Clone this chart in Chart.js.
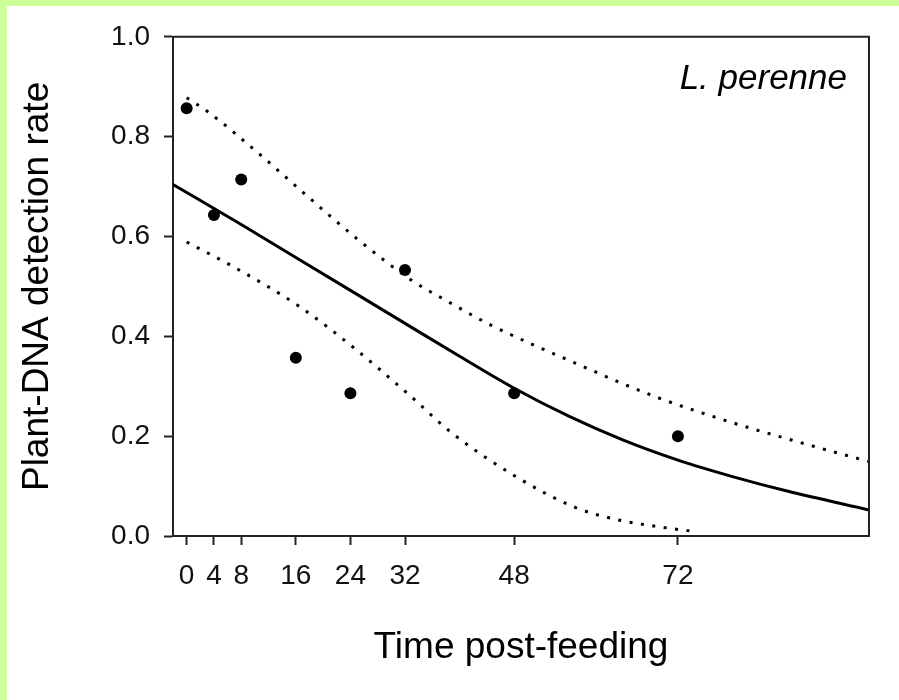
<!DOCTYPE html>
<html>
<head>
<meta charset="utf-8">
<script src="https://cdn.jsdelivr.net/npm/chart.js@4.4.1/dist/chart.umd.min.js"></script>
<style>
  html, body { margin: 0; padding: 0; background: #CCFF99; width: 899px; height: 700px; overflow: hidden; }
  #wrap { position: absolute; left: 7px; top: 6px; width: 892px; height: 694px; background: #ffffff; }
  canvas { display: block; }
</style>
</head>
<body>
<div id="wrap"><canvas id="c" width="892" height="694"></canvas></div>
<script>
// Observed data
const times = [0, 4, 8, 16, 24, 32, 48, 72];
const rates = [0.857, 0.643, 0.714, 0.357, 0.286, 0.533, 0.286, 0.200];

// Fitted curve
const fitX = [-2, 8, 16, 24, 32, 40, 48, 56, 64, 72, 80, 88, 100];
const fitY = [0.704, 0.624, 0.558, 0.492, 0.426, 0.360, 0.296, 0.240, 0.192, 0.152, 0.119, 0.090, 0.052];

// Upper confidence band
const upperX = [0, 3, 10.5, 17, 25, 33, 38, 44.5, 56, 68.5, 80, 90, 100];
const upperY = [0.878, 0.851, 0.767, 0.689, 0.595, 0.512, 0.472, 0.423, 0.352, 0.280, 0.227, 0.187, 0.149];

// Lower confidence band
const lowerX = [0, 6.5, 16.5, 24.5, 32.5, 39, 48.5, 57, 63, 71, 74.5];
const lowerY = [0.589, 0.542, 0.460, 0.377, 0.284, 0.205, 0.117, 0.057, 0.033, 0.015, 0.009];

// Axis ticks
const xTicks = [0, 4, 8, 16, 24, 32, 48, 72];
const yTicks = [0, 0.2, 0.4, 0.6, 0.8, 1.0];

const xTitle = 'Time post-feeding';
const yTitle = 'Plant-DNA detection rate';
const panelLabel = 'L. perenne';

const pairs = (xs, ys) => xs.map((x, i) => ({ x: x, y: ys[i] }));

const FONT = '"Liberation Sans", Arial, Helvetica, sans-serif';
const AXIS_COLOR = '#222222';

const framePlugin = {
  id: 'frame',
  afterDraw(chart) {
    const { ctx, chartArea: a } = chart;
    ctx.save();
    ctx.strokeStyle = AXIS_COLOR;
    ctx.lineWidth = 2;
    ctx.beginPath();
    ctx.moveTo(a.left, a.top);
    ctx.lineTo(a.right, a.top);
    ctx.lineTo(a.right, a.bottom);
    ctx.stroke();
    ctx.fillStyle = '#000';
    ctx.font = 'italic 35px ' + FONT;
    ctx.textAlign = 'right';
    ctx.textBaseline = 'alphabetic';
    ctx.fillText(panelLabel, a.right - 22, a.top + 52);
    ctx.restore();
  }
};

new Chart(document.getElementById('c'), {
  type: 'line',
  data: {
    datasets: [
      {
        label: 'observed', type: 'scatter', data: pairs(times, rates),
        pointRadius: 6, pointBackgroundColor: '#000', pointBorderColor: '#000',
        pointBorderWidth: 0, showLine: false, order: 0
      },
      {
        label: 'fit', data: pairs(fitX, fitY), borderColor: '#000', borderWidth: 3,
        pointRadius: 0, cubicInterpolationMode: 'monotone', fill: false, order: 1
      },
      {
        label: 'upper', data: pairs(upperX, upperY), borderColor: '#000', borderWidth: 3,
        borderDash: [3, 8.5], pointRadius: 0, cubicInterpolationMode: 'monotone', fill: false, order: 2
      },
      {
        label: 'lower', data: pairs(lowerX, lowerY), borderColor: '#000', borderWidth: 3,
        borderDash: [3, 8.5], pointRadius: 0, cubicInterpolationMode: 'monotone', fill: false, order: 2
      }
    ]
  },
  options: {
    responsive: false,
    devicePixelRatio: 1,
    animation: false,
    layout: { padding: { top: 29, right: 30, left: 0, bottom: 0 } },
    plugins: { legend: { display: false }, tooltip: { enabled: false } },
    scales: {
      x: {
        type: 'linear', min: -2, max: 100,
        afterBuildTicks(scale) { scale.ticks = xTicks.map(v => ({ value: v })); },
        afterFit(scale) { scale.height = 164; },
        grid: { drawOnChartArea: false, drawTicks: true, tickLength: 9, tickWidth: 2, tickColor: AXIS_COLOR },
        border: { display: true, color: AXIS_COLOR, width: 2 },
        ticks: {
          autoSkip: false, maxRotation: 0, padding: 14, color: '#111',
          font: { family: FONT, size: 28 },
          callback: v => String(v)
        },
        title: {
          display: true, text: xTitle, color: '#000',
          font: { family: FONT, size: 37 }, padding: { top: 0, bottom: 30 }
        }
      },
      y: {
        type: 'linear', min: 0, max: 1,
        afterBuildTicks(scale) { scale.ticks = yTicks.map(v => ({ value: v })); },
        afterFit(scale) { scale.width = 166; },
        grid: { drawOnChartArea: false, drawTicks: true, tickLength: 9, tickWidth: 2, tickColor: AXIS_COLOR },
        border: { display: true, color: AXIS_COLOR, width: 2 },
        ticks: {
          padding: 14, color: '#111',
          font: { family: FONT, size: 28 },
          callback: v => Number(v).toFixed(1)
        },
        title: {
          display: true, text: yTitle, color: '#000',
          font: { family: FONT, size: 37 }, padding: { top: 9, bottom: 0 }
        }
      }
    }
  },
  plugins: [framePlugin]
});
</script>
</body>
</html>
